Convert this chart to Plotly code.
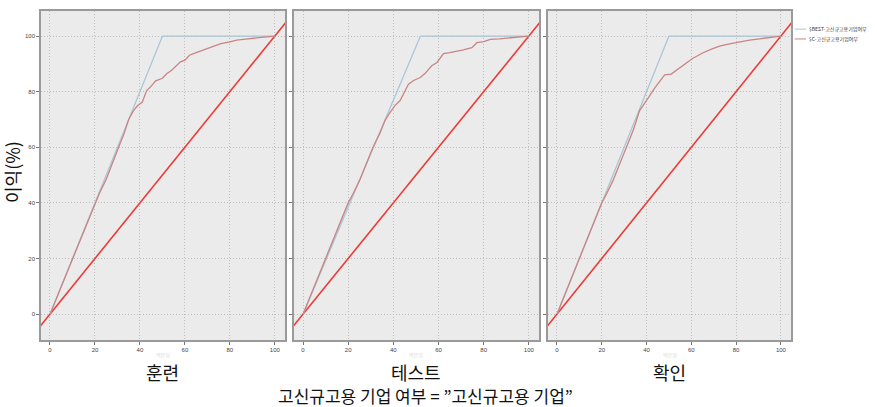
import plotly.graph_objects as go

panel_titles = ["훈련", "테스트", "확인"]
legend_names = ["$BEST-고신규고용기업여부", "$C-고신규고용기업여부"]
y_title = "이익(%)"
bottom_title = "고신규고용 기업 여부 = \u201d고신규고용 기업\u201d"
x_axis_label = "백분위"

tick_vals = [0, 20, 40, 60, 80, 100]

diag_x = [-5, 110]
diag_y = [-5, 110]

best_x = [[0, 50, 100], [0, 52, 100], [0, 50, 100]]
best_y = [[0, 100, 100], [0, 100, 100], [0, 100, 100]]

c_x1 = [0, 2, 5, 8, 10, 13, 16, 19, 20, 22, 25, 28, 31, 33, 35, 37, 39, 41, 43, 45, 47, 50, 52, 54, 56, 58, 60, 62, 65, 69, 73, 76, 80, 83, 87, 90, 94, 97, 100]
c_y1 = [0, 4, 10, 16, 20, 26, 32, 38, 40, 43.5, 48.5, 55, 61, 65, 70, 73, 75, 76.2, 80.4, 82, 83.9, 84.8, 86.5, 87.6, 89, 90.7, 91.3, 93.1, 94, 95.2, 96.4, 97.3, 97.9, 98.5, 98.9, 99.2, 99.4, 99.7, 100]

c_x2 = [0, 2, 5, 8, 10, 13, 16, 19, 20, 22, 25, 28, 31, 34, 36.3, 38.5, 40.7, 43, 45, 46.7, 49, 51.9, 54, 57, 59.3, 62.2, 65, 68.2, 71, 74.8, 77, 80, 83, 87, 91.9, 96, 100]
c_y2 = [0, 4, 10, 16, 20, 26, 32, 38, 40, 43, 48, 54, 60, 65, 69.6, 72.5, 75, 76.8, 80, 82.7, 84, 85.1, 86.5, 89.3, 90.5, 93.7, 94, 94.4, 95, 95.8, 97.6, 98, 98.8, 99, 99.4, 99.7, 100]

c_x3 = [0, 2, 5, 8, 10, 13, 16, 19, 20, 22, 25, 28, 31, 34, 36.9, 39, 41, 43.6, 46, 48.1, 51, 53, 54.8, 57, 60.7, 63, 65.2, 69, 72.6, 77, 81.6, 86, 90.5, 95, 100]
c_y3 = [0, 4, 10, 16, 20, 26, 32, 38, 40, 43, 48, 54, 60, 66, 73.2, 75.5, 78, 81.3, 84, 86, 86.3, 87.5, 88.7, 90, 92, 93, 94, 95.3, 96.4, 97.2, 98, 98.5, 99, 99.5, 100]

c_x = [c_x1, c_x2, c_x3]
c_y = [c_y1, c_y2, c_y3]

col_best = "#a9c5d6"
col_c = "#c98585"
col_diag = "#ec3b36"
grid_col = "#bdbdbd"
frame_col = "#9a9a9a"

domains = [[0.0, 0.3253], [0.3373, 0.664], [0.676, 1.0]]
font_family = "Noto Sans CJK KR, Noto Sans, sans-serif"

fig = go.Figure()
for i in range(3):
    xa = "x" if i == 0 else f"x{i+1}"
    ya = "y" if i == 0 else f"y{i+1}"
    fig.add_trace(go.Scatter(x=diag_x, y=diag_y, mode="lines",
                             line=dict(color=col_diag, width=1.6),
                             xaxis=xa, yaxis=ya, showlegend=False, hoverinfo="skip"))
    fig.add_trace(go.Scatter(x=best_x[i], y=best_y[i], mode="lines",
                             line=dict(color=col_best, width=1.3),
                             xaxis=xa, yaxis=ya, showlegend=False, name=legend_names[0]))
    fig.add_trace(go.Scatter(x=c_x[i], y=c_y[i], mode="lines",
                             line=dict(color=col_c, width=1.3),
                             xaxis=xa, yaxis=ya, showlegend=False, name=legend_names[1]))

layout = dict(
    width=877, height=407,
    margin=dict(l=41, r=86, t=9, b=67),
    paper_bgcolor="white",
    plot_bgcolor="#ebebeb",
    font=dict(family=font_family, color="#333"),
    showlegend=False,
)
for i in range(3):
    xk = "xaxis" if i == 0 else f"xaxis{i+1}"
    yk = "yaxis" if i == 0 else f"yaxis{i+1}"
    ya = "y" if i == 0 else f"y{i+1}"
    xa = "x" if i == 0 else f"x{i+1}"
    layout[xk] = dict(domain=domains[i], range=[-4, 104.5], anchor=ya,
                      tickvals=tick_vals, ticks="outside", ticklen=3, tickcolor="#777",
                      tickfont=dict(size=6, color="#444", family="Liberation Sans, Arial, sans-serif"),
                      showgrid=True, gridcolor=grid_col, griddash="1px,2px", gridwidth=1,
                      zeroline=False, showline=True, mirror=True,
                      linecolor=frame_col, linewidth=1.5, fixedrange=True)
    layout[yk] = dict(domain=[0, 1], range=[-9.3, 109], anchor=xa,
                      tickvals=tick_vals, ticks="outside", ticklen=3, tickcolor="#777",
                      tickfont=dict(size=6, color="#444", family="Liberation Sans, Arial, sans-serif"),
                      showticklabels=(i == 0),
                      showgrid=True, gridcolor=grid_col, griddash="1px,2px", gridwidth=1,
                      zeroline=False, showline=True, mirror=True,
                      linecolor=frame_col, linewidth=1.5, fixedrange=True)
fig.update_layout(**layout)

annotations = []
for i, t in enumerate(panel_titles):
    cx = (domains[i][0] + domains[i][1]) / 2
    annotations.append(dict(text=t, x=cx, y=-0.058, xref="paper", yref="paper",
                            xanchor="center", yanchor="top", showarrow=False, height=22,
                            font=dict(size=18, color="#111", family=font_family)))
    annotations.append(dict(text=x_axis_label, x=cx, y=-0.028, xref="paper", yref="paper",
                            xanchor="center", yanchor="top", showarrow=False,
                            font=dict(size=5, color="#d8d8d8", family=font_family)))
annotations.append(dict(text=bottom_title, x=0.512, y=-0.13, xref="paper", yref="paper",
                        xanchor="center", yanchor="top", showarrow=False, height=20,
                        font=dict(size=17, color="#111", family=font_family)))
annotations.append(dict(text=y_title, x=-0.039, y=0.51, xref="paper", yref="paper",
                        xanchor="center", yanchor="middle", showarrow=False, textangle=-90,
                        font=dict(size=18, color="#111", family=font_family)))
# legend
leg_cols = [col_best, col_c]
shapes = []
for k, name in enumerate(legend_names):
    yy = 0.945 - k * 0.03
    shapes.append(dict(type="line", xref="paper", yref="paper", x0=1.005, x1=1.02,
                       y0=yy, y1=yy, line=dict(color=leg_cols[k], width=1)))
    annotations.append(dict(text=name, x=1.021, y=yy, xref="paper", yref="paper",
                            xanchor="left", yanchor="middle", showarrow=False,
                            font=dict(size=5, color="#333", family=font_family)))
fig.update_layout(annotations=annotations, shapes=shapes)

fig.write_html("out.html", config={"displayModeBar": False},
               post_script="document.body.style.margin='0px';document.body.style.overflow='hidden';")
